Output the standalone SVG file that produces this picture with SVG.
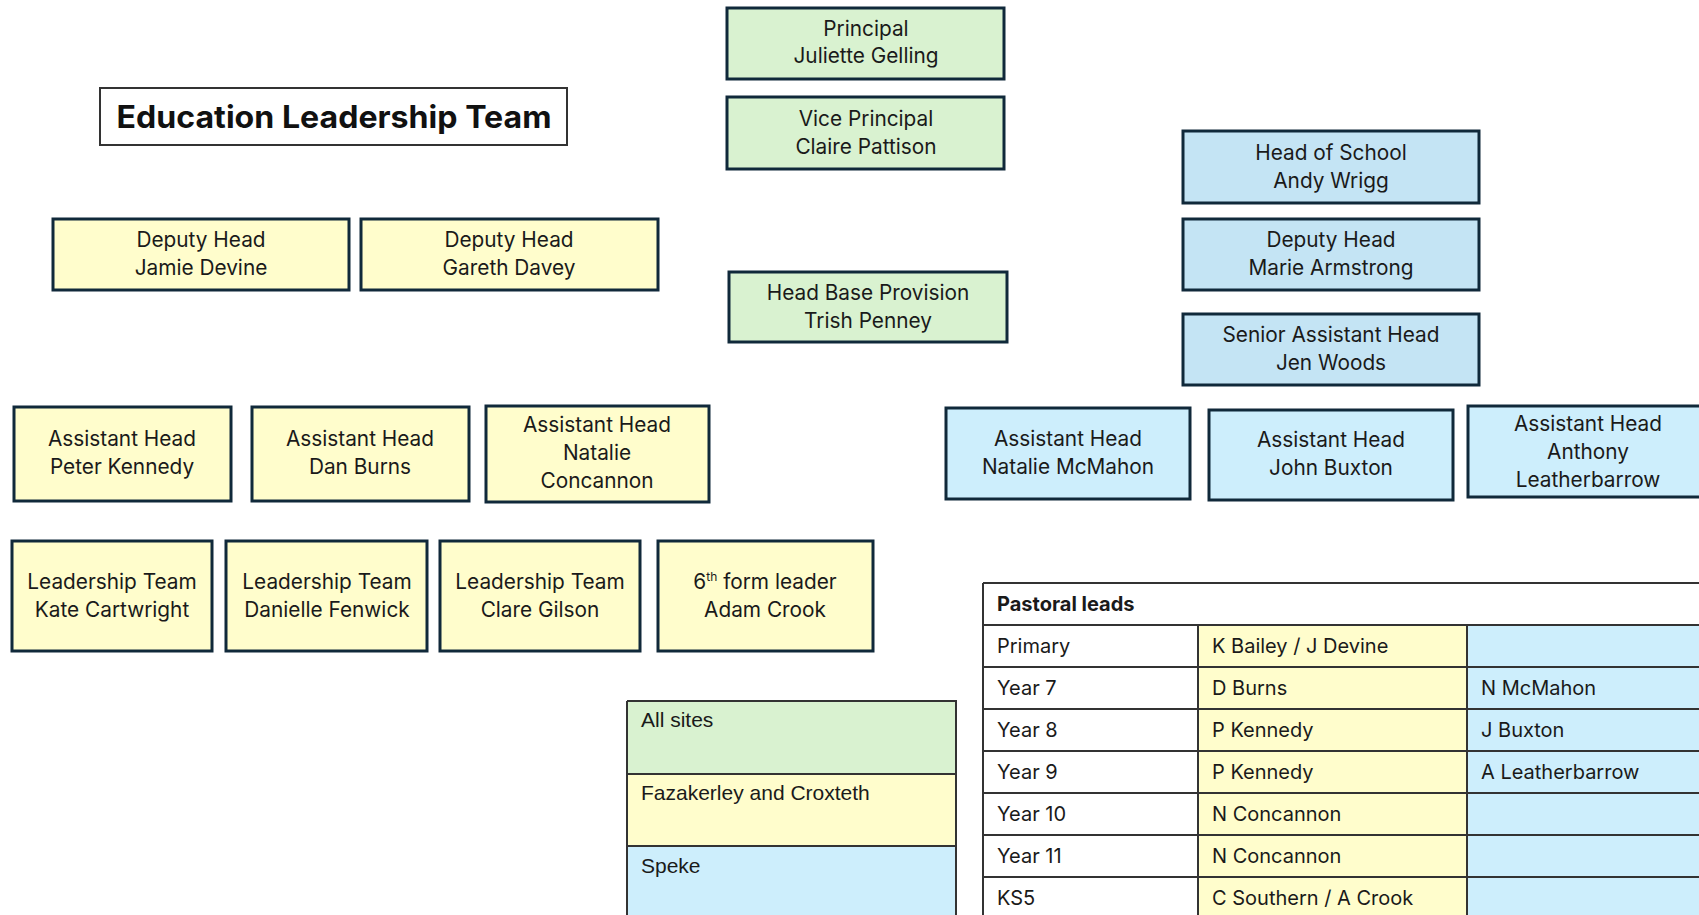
<svg xmlns="http://www.w3.org/2000/svg" width="1699" height="915" viewBox="0 0 1699 915">
<style>
.bx{stroke:#10293a;stroke-width:3}
.g{fill:#d9f2d0}
.y{fill:#fffdcc}
.b{fill:#c4e4f4}
.bl{fill:#cdeefc}
.t{font-family:Inter,"Noto Sans",sans-serif;font-size:20.8px;fill:#1a1a1a;text-anchor:middle}
.tt{font-family:Inter,"Noto Sans",sans-serif;font-size:20px;fill:#1a1a1a}
.lg{font-family:"Liberation Sans",Arial,sans-serif;font-size:21px;fill:#1a1a1a}
.tc{stroke:#333;stroke-width:2}
</style>
<rect width="1699" height="915" fill="#fff"/>
<g id="title">
<rect x="100" y="88" width="467" height="57" fill="#fff" stroke="#333" stroke-width="2"/>
<text x="334" y="128" font-family="Inter,'Noto Sans',sans-serif" font-size="31" font-weight="bold" text-anchor="middle" fill="#111" textLength="435" lengthAdjust="spacingAndGlyphs">Education Leadership Team</text>
</g>
<g id="principal"><rect class="bx g" x="727" y="8" width="277" height="71"/><text class="t" x="866" y="36">Principal</text><text class="t" x="866" y="63">Juliette Gelling</text></g>
<g id="vice-principal"><rect class="bx g" x="727" y="97" width="277" height="72"/><text class="t" x="866" y="126">Vice Principal</text><text class="t" x="866" y="154">Claire Pattison</text></g>
<g id="head-base"><rect class="bx g" x="729" y="272" width="278" height="70"/><text class="t" x="868" y="300">Head Base Provision</text><text class="t" x="868" y="328">Trish Penney</text></g>
<g id="head-school"><rect class="bx b" x="1183" y="131" width="296" height="72"/><text class="t" x="1331" y="160">Head of School</text><text class="t" x="1331" y="188">Andy Wrigg</text></g>
<g id="deputy-marie"><rect class="bx b" x="1183" y="219" width="296" height="71"/><text class="t" x="1331" y="247">Deputy Head</text><text class="t" x="1331" y="275">Marie Armstrong</text></g>
<g id="senior-ah"><rect class="bx b" x="1183" y="314" width="296" height="71"/><text class="t" x="1331" y="342">Senior Assistant Head</text><text class="t" x="1331" y="370">Jen Woods</text></g>
<g id="deputy-jamie"><rect class="bx y" x="53" y="219" width="296" height="71"/><text class="t" x="201" y="247">Deputy Head</text><text class="t" x="201" y="275">Jamie Devine</text></g>
<g id="deputy-gareth"><rect class="bx y" x="361" y="219" width="297" height="71"/><text class="t" x="509" y="247">Deputy Head</text><text class="t" x="509" y="275">Gareth Davey</text></g>
<g id="ah-peter"><rect class="bx y" x="14" y="407" width="217" height="94"/><text class="t" x="122" y="446">Assistant Head</text><text class="t" x="122" y="474">Peter Kennedy</text></g>
<g id="ah-dan"><rect class="bx y" x="252" y="407" width="217" height="94"/><text class="t" x="360" y="446">Assistant Head</text><text class="t" x="360" y="474">Dan Burns</text></g>
<g id="ah-natalie-c"><rect class="bx y" x="486" y="406" width="223" height="96"/><text class="t" x="597" y="432">Assistant Head</text><text class="t" x="597" y="460">Natalie</text><text class="t" x="597" y="488">Concannon</text></g>
<g id="ah-mcmahon"><rect class="bx bl" x="946" y="408" width="244" height="91"/><text class="t" x="1068" y="446">Assistant Head</text><text class="t" x="1068" y="474">Natalie McMahon</text></g>
<g id="ah-buxton"><rect class="bx bl" x="1209" y="410" width="244" height="90"/><text class="t" x="1331" y="447">Assistant Head</text><text class="t" x="1331" y="475">John Buxton</text></g>
<g id="ah-leatherbarrow"><rect class="bx bl" x="1468" y="406" width="240" height="91"/><text class="t" x="1588" y="431">Assistant Head</text><text class="t" x="1588" y="459">Anthony</text><text class="t" x="1588" y="487">Leatherbarrow</text></g>
<g id="lt-kate"><rect class="bx y" x="12" y="541" width="200" height="110"/><text class="t" x="112" y="589">Leadership Team</text><text class="t" x="112" y="617">Kate Cartwright</text></g>
<g id="lt-danielle"><rect class="bx y" x="226" y="541" width="201" height="110"/><text class="t" x="327" y="589">Leadership Team</text><text class="t" x="327" y="617">Danielle Fenwick</text></g>
<g id="lt-clare"><rect class="bx y" x="440" y="541" width="200" height="110"/><text class="t" x="540" y="589">Leadership Team</text><text class="t" x="540" y="617">Clare Gilson</text></g>
<g id="sixth-form"><rect class="bx y" x="658" y="541" width="215" height="110"/><text class="t" x="765" y="589">6<tspan font-size="12" dy="-8">th</tspan><tspan dy="8"> form leader</tspan></text><text class="t" x="765" y="617">Adam Crook</text></g>
<g id="connectors"></g>
<g id="legend">
<rect x="627" y="701" width="329" height="73" fill="#d9f2d0"/>
<rect x="627" y="774" width="329" height="72" fill="#fffdcc"/>
<rect x="627" y="846" width="329" height="75" fill="#cdeefc"/>
<path d="M627 701H956V920M627 701V920M627 774H956M627 846H956" fill="none" stroke="#333" stroke-width="2"/>
<text class="lg" x="641" y="727">All sites</text>
<text class="lg" x="641" y="800">Fazakerley and Croxteth</text>
<text class="lg" x="641" y="873">Speke</text>
</g>
<g id="pastoral-table">
<rect x="983" y="583" width="720" height="42" fill="#fff"/>
<rect x="983" y="625" width="215" height="295" fill="#fff"/>
<rect x="1198" y="625" width="269" height="295" fill="#fffdcc"/>
<rect x="1467" y="625" width="240" height="295" fill="#cdeefc"/>
<path class="tc" fill="none" d="M983 583H1705M983 625H1705M983 667H1705M983 709H1705M983 751H1705M983 793H1705M983 835H1705M983 877H1705M983 583V920M1198 625V920M1467 625V920"/>
<text class="tt" x="997" y="611" font-weight="bold">Pastoral leads</text>
<text class="tt" x="997" y="653">Primary</text><text class="tt" x="1212" y="653">K Bailey / J Devine</text>
<text class="tt" x="997" y="695">Year 7</text><text class="tt" x="1212" y="695">D Burns</text><text class="tt" x="1481" y="695">N McMahon</text>
<text class="tt" x="997" y="737">Year 8</text><text class="tt" x="1212" y="737">P Kennedy</text><text class="tt" x="1481" y="737">J Buxton</text>
<text class="tt" x="997" y="779">Year 9</text><text class="tt" x="1212" y="779">P Kennedy</text><text class="tt" x="1481" y="779">A Leatherbarrow</text>
<text class="tt" x="997" y="821">Year 10</text><text class="tt" x="1212" y="821">N Concannon</text>
<text class="tt" x="997" y="863">Year 11</text><text class="tt" x="1212" y="863">N Concannon</text>
<text class="tt" x="997" y="905">KS5</text><text class="tt" x="1212" y="905">C Southern / A Crook</text>
</g>
</svg>
